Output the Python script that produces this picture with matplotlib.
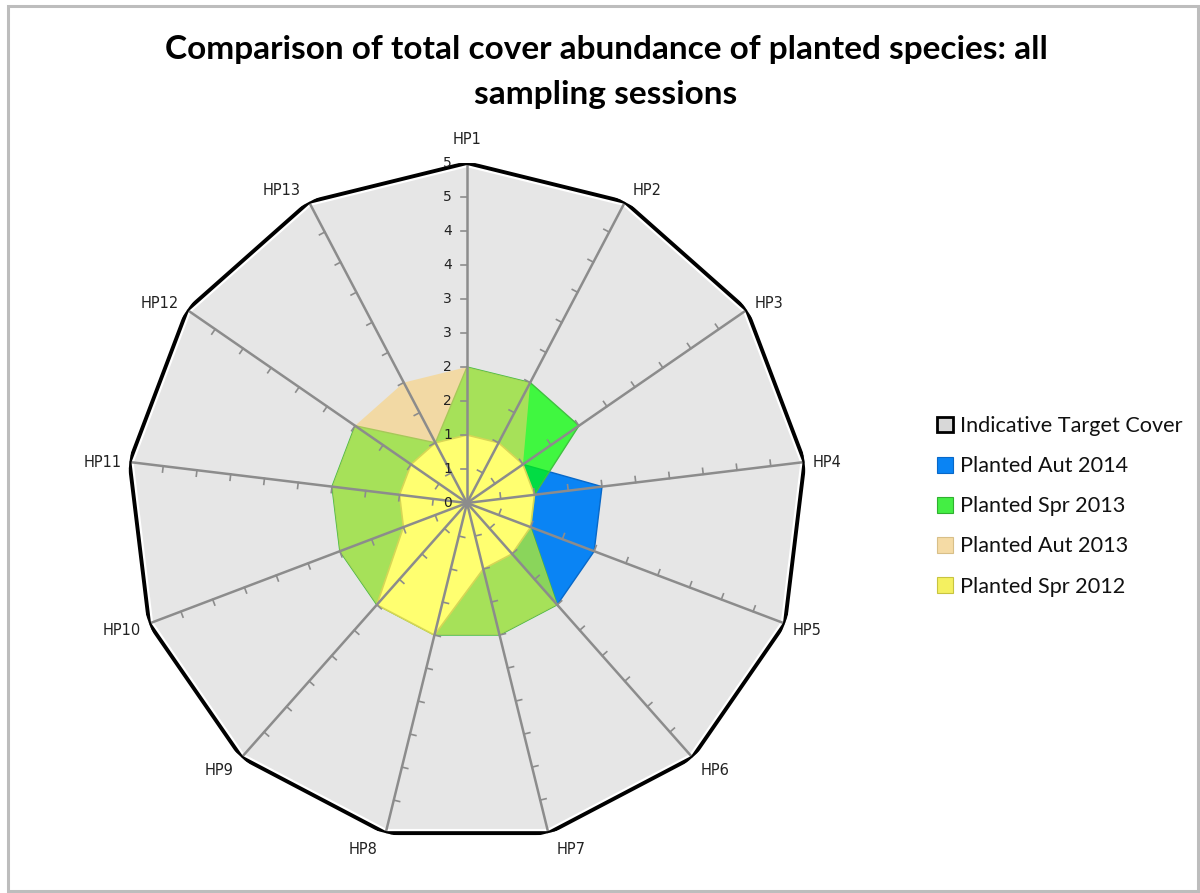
import numpy as np
import matplotlib
matplotlib.use("Agg")
import matplotlib.pyplot as plt
from matplotlib.patches import Patch, Rectangle

# ---------------- data ----------------
categories = ["HP1", "HP2", "HP3", "HP4", "HP5", "HP6", "HP7",
              "HP8", "HP9", "HP10", "HP11", "HP12", "HP13"]
target_cover = [5, 5, 5, 5, 5, 5, 5, 5, 5, 5, 5, 5, 5]
aut_2014 = [0, 0, 1, 2, 2, 2, 0, 0, 0, 0, 0, 0, 0]
spr_2013 = [2, 2, 2, 1, 1, 2, 2, 2, 2, 2, 2, 2, 1]
aut_2013 = [2, 2, 1, 1, 1, 2, 2, 2, 2, 2, 2, 2, 2]
spr_2012 = [1, 1, 1, 1, 1, 1, 1, 2, 2, 1, 1, 1, 1]
radial_ticks = [0, 0.5, 1, 1.5, 2, 2.5, 3, 3.5, 4, 4.5, 5]
radial_tick_labels = ["0", "1", "1", "2", "2", "3", "3", "4", "4", "5", "5"]
series_names = ["Indicative Target Cover", "Planted Aut 2014", "Planted Spr 2013",
                "Planted Aut 2013", "Planted Spr 2012"]
title = "Comparison of total cover abundance of planted species: all\nsampling sessions"

# ---------------- figure ----------------
W, H = 1200, 893
fig = plt.figure(figsize=(W / 100, H / 100), dpi=100)
fig.patch.set_facecolor("white")
fig.add_artist(Rectangle((8 / W, 1 - 891 / H), 1190 / W, 885 / H,
                         transform=fig.transFigure, fill=False,
                         ec="#bdbdbd", lw=2.2))

cx, cy, R = 467, 503, 340
ax = fig.add_axes([(cx - R) / W, (H - cy - R) / H, 2 * R / W, 2 * R / H],
                  projection="polar")
ax.set_theta_zero_location("N")
ax.set_theta_direction(-1)
ax.set_ylim(0, 5)
ax.set_axis_off()

n = len(categories)
theta = np.arange(n) * 2 * np.pi / n


def closed(vals):
    v = list(vals)
    return np.append(theta, theta[0]), np.array(v + v[:1], dtype=float)


# target
t, r = closed(target_cover)
ax.fill(t, r, fc="#e6e6e6", ec="none", zorder=1)
ax.plot(t, r, color="white", lw=6, zorder=1.5, solid_joinstyle="miter")
ax.plot(t, r, color="black", lw=2.8, zorder=7, solid_joinstyle="miter")

# blue
t, r = closed(aut_2014)
ax.fill(t, r, fc="#0a84f4", ec="#0868c8", lw=1, zorder=2)
# green
t, r = closed(spr_2013)
ax.fill(t, r, fc="#00ff00", alpha=0.72, ec="none", zorder=3)
ax.plot(t, r, color="#40c040", lw=1, zorder=3.1)
# tan
t, r = closed(aut_2013)
ax.fill(t, r, fc="#fcd06e", alpha=0.55, ec="none", zorder=4)
# yellow
t, r = closed(spr_2012)
ax.fill(t, r, fc="#ffff70", ec="#d6d655", lw=1.2, zorder=5,
        joinstyle="round")

# spokes and ticks
px_per_unit = R / 5.0
tick_len = 6 / px_per_unit
for th in theta:
    ax.plot([th, th], [0, 5], color="#8c8c8c", lw=1.8, zorder=6)
    for rv in radial_ticks[1:]:
        r2 = np.hypot(rv, tick_len)
        th2 = th - np.arctan2(tick_len, rv)
        ax.plot([th, th2], [rv, r2], color="#8c8c8c", lw=1.2, zorder=6)

# radial labels
for rv, lab in zip(radial_ticks, radial_tick_labels):
    ax.annotate(lab, xy=(0, rv), xytext=(-15, 0), textcoords="offset pixels",
                ha="right", va="center", fontsize=10, color="#222222",
                family="DejaVu Sans", zorder=8)

# category labels
for th, lab in zip(theta, categories):
    s, c = np.sin(th), np.cos(th)
    if abs(s) < 0.1:
        ax.annotate(lab, xy=(th, 5), xytext=(0, 16), textcoords="offset pixels",
                    ha="center", va="bottom", fontsize=10.5, color="#222222",
                    family="DejaVu Sans", annotation_clip=False)
    else:
        ax.annotate(lab, xy=(th, 5), xytext=(np.sign(s) * 8, 15 * c - 2),
                    textcoords="offset pixels",
                    ha="left" if s > 0 else "right", va="center",
                    fontsize=10.5, color="#222222", family="DejaVu Sans",
                    annotation_clip=False)

# title
fig.text(606 / W, 1 - 72 / H, title, ha="center", va="center",
         fontsize=24, fontweight="bold", family="Lato", linespacing=1.68,
         color="black")

# legend
handles = [
    Patch(fc="#d8d8d8", ec="black", lw=2),
    Patch(fc="#0a84f4", ec="#0868c8", lw=0.8),
    Patch(fc="#44ee44", ec="#30b030", lw=0.8),
    Patch(fc="#f5dba5", ec="#d8bf88", lw=0.8),
    Patch(fc="#f4f060", ec="#c8c440", lw=0.8),
]
leg = fig.legend(handles, series_names, loc="upper left",
                 bbox_to_anchor=(937 / W, 1 - 416 / H), frameon=False,
                 prop={"family": "Lato", "size": 15.6},
                 handlelength=0.75, handleheight=0.75, handletextpad=0.3,
                 labelspacing=0.93, borderaxespad=0, borderpad=0)
for txt in leg.get_texts():
    txt.set_color("#111111")

fig.savefig("out.png", dpi=100)
